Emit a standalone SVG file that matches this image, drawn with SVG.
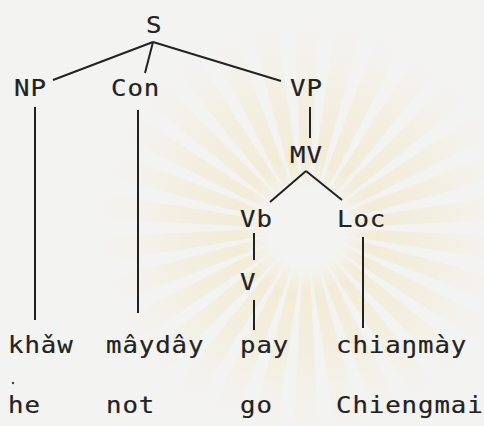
<svg xmlns="http://www.w3.org/2000/svg" width="484" height="426" viewBox="0 0 484 426">
  <style>
    .lbl { font-family: "DejaVu Sans Mono", "Liberation Mono", monospace; font-size: 23px; letter-spacing: 0.8px; fill: #222222; stroke: #222222; stroke-width: 0.2px; }
    .edge { stroke: #222222; stroke-width: 2; stroke-linecap: butt; fill: none; }
  </style>
  <defs>
    <radialGradient id="rayFade" gradientUnits="userSpaceOnUse" cx="0" cy="0" r="210">
      <stop offset="0.18" stop-color="#f0d68a" stop-opacity="0"/>
      <stop offset="0.32" stop-color="#f0d68a" stop-opacity="0.26"/>
      <stop offset="0.65" stop-color="#f2dea4" stop-opacity="0.2"/>
      <stop offset="1" stop-color="#f4ead0" stop-opacity="0"/>
    </radialGradient>
    <path id="ray" d="M -3,-30 L -13,-210 L 13,-210 L 3,-30 Z" fill="url(#rayFade)"/>
  </defs>

  <!-- paper -->
  <rect x="0" y="0" width="484" height="426" fill="#f3f3f1"/>

  <!-- faint emblem sunburst in the background -->
  <g id="emblem" transform="translate(306,228)">
    <use href="#ray" transform="rotate(0)"/>
    <use href="#ray" transform="rotate(12)"/>
    <use href="#ray" transform="rotate(24)"/>
    <use href="#ray" transform="rotate(36)"/>
    <use href="#ray" transform="rotate(48)"/>
    <use href="#ray" transform="rotate(60)"/>
    <use href="#ray" transform="rotate(72)"/>
    <use href="#ray" transform="rotate(84)"/>
    <use href="#ray" transform="rotate(96)"/>
    <use href="#ray" transform="rotate(108)"/>
    <use href="#ray" transform="rotate(120)"/>
    <use href="#ray" transform="rotate(132)"/>
    <use href="#ray" transform="rotate(144)"/>
    <use href="#ray" transform="rotate(156)"/>
    <use href="#ray" transform="rotate(168)"/>
    <use href="#ray" transform="rotate(180)"/>
    <use href="#ray" transform="rotate(192)"/>
    <use href="#ray" transform="rotate(204)"/>
    <use href="#ray" transform="rotate(216)"/>
    <use href="#ray" transform="rotate(228)"/>
    <use href="#ray" transform="rotate(240)"/>
    <use href="#ray" transform="rotate(252)"/>
    <use href="#ray" transform="rotate(264)"/>
    <use href="#ray" transform="rotate(276)"/>
    <use href="#ray" transform="rotate(288)"/>
    <use href="#ray" transform="rotate(300)"/>
    <use href="#ray" transform="rotate(312)"/>
    <use href="#ray" transform="rotate(324)"/>
    <use href="#ray" transform="rotate(336)"/>
    <use href="#ray" transform="rotate(348)"/>
  </g>

  <!-- tree branches -->
  <g id="connectors" class="edge">
    <line x1="153" y1="42" x2="53" y2="80"/>
    <line x1="153" y1="42" x2="145" y2="73"/>
    <line x1="153" y1="42" x2="281" y2="81"/>
    <line x1="35" y1="107" x2="35" y2="320"/>
    <line x1="138" y1="110" x2="138" y2="313"/>
    <line x1="310" y1="107" x2="310" y2="138"/>
    <line x1="306" y1="171" x2="270" y2="202"/>
    <line x1="306" y1="171" x2="342" y2="200"/>
    <line x1="254" y1="233" x2="254" y2="260"/>
    <line x1="254" y1="300" x2="254" y2="330"/>
    <line x1="363" y1="237" x2="363" y2="328"/>
  </g>

  <!-- category nodes -->
  <g id="node-S"><text class="lbl" transform="translate(146,33) scale(1.12,1)">S</text></g>
  <g id="node-NP"><text class="lbl" transform="translate(14,96) scale(1.12,1)">NP</text></g>
  <g id="node-Con"><text class="lbl" transform="translate(111,96) scale(1.12,1)">Con</text></g>
  <g id="node-VP"><text class="lbl" transform="translate(290,96) scale(1.12,1)">VP</text></g>
  <g id="node-MV"><text class="lbl" transform="translate(290,163) scale(1.12,1)">MV</text></g>
  <g id="node-Vb"><text class="lbl" transform="translate(240,227) scale(1.12,1)">Vb</text></g>
  <g id="node-Loc"><text class="lbl" transform="translate(337,227) scale(1.12,1)">Loc</text></g>
  <g id="node-V"><text class="lbl" transform="translate(240,290) scale(1.12,1)">V</text></g>

  <!-- Thai words -->
  <g id="word-khaw"><text class="lbl" transform="translate(8,353) scale(1.12,1)">khǎw</text></g>
  <g id="word-mayday"><text class="lbl" transform="translate(106,353) scale(1.12,1)">mâydây</text></g>
  <g id="word-pay"><text class="lbl" transform="translate(240,353) scale(1.12,1)">pay</text></g>
  <g id="word-chiangmay"><text class="lbl" transform="translate(336,353) scale(1.12,1)">chiaŋmày</text></g>

  <!-- glosses -->
  <g id="gloss-he"><text class="lbl" transform="translate(8,413) scale(1.12,1)">he</text></g>
  <g id="gloss-not"><text class="lbl" transform="translate(106,413) scale(1.12,1)">not</text></g>
  <g id="gloss-go"><text class="lbl" transform="translate(240,413) scale(1.12,1)">go</text></g>
  <g id="gloss-Chiengmai"><text class="lbl" transform="translate(336,413) scale(1.12,1)">Chiengmai</text></g>

  <!-- stray dot below khaw -->
  <circle cx="13" cy="383" r="1.2" fill="#444"/>
</svg>
